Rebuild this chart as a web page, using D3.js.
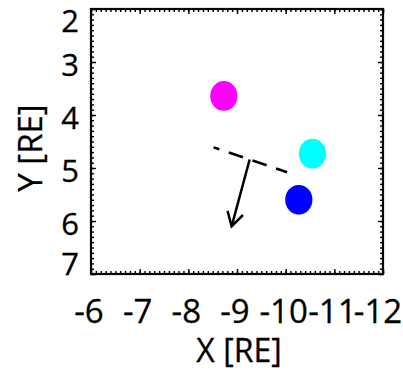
<!DOCTYPE html>
<html>
<head>
<meta charset="utf-8">
<script src="https://cdn.jsdelivr.net/npm/d3@7"></script>
<style>
  body { margin: 0; background: #fff; }
  svg text { font-family: "Open Sans", "Noto Sans", sans-serif; fill: #000; stroke: #000; stroke-width: 0.3; }
</style>
</head>
<body>
<svg id="chart"></svg>
<script>
// data
const xTicks = [-6, -7, -8, -9, -10, -11, -12];
const yTicks = [2, 3, 4, 5, 6, 7];
const pointX = [-8.73, -10.55, -10.27];
const pointY = [3.64, 4.73, 5.60];
const pointColor = ['#ff00ff', '#00ffff', '#0000ff'];
const pointRadius = 0.28; // data units
const dashX = [-8.52, -10.03];
const dashY = [4.61, 5.08];
const arrowX = [-9.26, -8.89];
const arrowY = [4.84, 6.10];

const width = 403, height = 370;
const plot = { left: 91, right: 383, top: 9, bottom: 274 };

const svg = d3.select('#chart')
    .attr('width', width)
    .attr('height', height);

const x = d3.scaleLinear().domain([-6, -12]).range([plot.left, plot.right]);
const y = d3.scaleLinear().domain([2, 7]).range([plot.top, plot.bottom]);

// minor + major ticks on all four sides, pointing inward
function drawTicks(axisFn, scale, transform, values, size) {
    svg.append('g')
        .attr('transform', transform)
        .call(axisFn(scale).tickValues(values).tickSize(size).tickFormat(''))
        .call(g => g.select('.domain').remove())
        .selectAll('line').attr('stroke', '#000').attr('stroke-width', 1.4);
}
const xMinor = x.ticks(60), yMinor = y.ticks(50);
drawTicks(d3.axisBottom, x, `translate(0,${plot.bottom})`, xMinor, -3);
drawTicks(d3.axisTop, x, `translate(0,${plot.top})`, xMinor, -3);
drawTicks(d3.axisLeft, y, `translate(${plot.left},0)`, yMinor, -3);
drawTicks(d3.axisRight, y, `translate(${plot.right},0)`, yMinor, -3);
drawTicks(d3.axisBottom, x, `translate(0,${plot.bottom})`, xTicks, -5);
drawTicks(d3.axisTop, x, `translate(0,${plot.top})`, xTicks, -5);
drawTicks(d3.axisLeft, y, `translate(${plot.left},0)`, yTicks, -5);
drawTicks(d3.axisRight, y, `translate(${plot.right},0)`, yTicks, -5);

svg.append('rect')
    .attr('x', plot.left).attr('y', plot.top)
    .attr('width', plot.right - plot.left).attr('height', plot.bottom - plot.top)
    .attr('fill', 'none').attr('stroke', '#000').attr('stroke-width', 2.2);

// tick labels
svg.selectAll('.xlab').data(xTicks).enter().append('text')
    .attr('x', d => Math.min(x(d) - 2, 378))
    .attr('y', 323)
    .attr('text-anchor', 'middle')
    .attr('font-size', 33)
    .text(d => d);

svg.selectAll('.ylab').data(yTicks).enter().append('text')
    .attr('x', 79)
    .attr('y', d => Math.max(32, Math.min(275, y(d) + 14)))
    .attr('text-anchor', 'end')
    .attr('font-size', 31)
    .text(d => d);

svg.append('text')
    .attr('x', (plot.left + plot.right) / 2 + 2)
    .attr('y', 362)
    .attr('text-anchor', 'middle')
    .attr('font-size', 32)
    .text('X [RE]');

svg.append('text')
    .attr('transform', `translate(42,148) rotate(-90)`)
    .attr('text-anchor', 'middle')
    .attr('font-size', 33)
    .text('Y [RE]');

// dots
const rx = Math.abs(x(pointRadius) - x(0));
const ry = Math.abs(y(pointRadius) - y(0));
svg.selectAll('ellipse').data(pointX).enter().append('ellipse')
    .attr('cx', d => x(d))
    .attr('cy', (d, i) => y(pointY[i]))
    .attr('rx', rx)
    .attr('ry', ry)
    .attr('fill', (d, i) => pointColor[i]);

// dashed line
svg.append('line')
    .attr('x1', x(dashX[0])).attr('y1', y(dashY[0]))
    .attr('x2', x(dashX[1])).attr('y2', y(dashY[1]))
    .attr('stroke', '#000').attr('stroke-width', 2.5)
    .attr('stroke-dasharray', '15,10').attr('stroke-dashoffset', 9);

// arrow
const ax0 = x(arrowX[0]), ay0 = y(arrowY[0]);
const ax1 = x(arrowX[1]), ay1 = y(arrowY[1]);
const ang = Math.atan2(ay0 - ay1, ax0 - ax1);
const headLen = 16, headAng = Math.PI / 6;
svg.append('line')
    .attr('x1', ax0).attr('y1', ay0).attr('x2', ax1).attr('y2', ay1)
    .attr('stroke', '#000').attr('stroke-width', 2.5);
svg.append('path')
    .attr('d', `M${ax1 + headLen * Math.cos(ang - headAng)},${ay1 + headLen * Math.sin(ang - headAng)}` +
               `L${ax1},${ay1}` +
               `L${ax1 + headLen * Math.cos(ang + headAng)},${ay1 + headLen * Math.sin(ang + headAng)}`)
    .attr('fill', 'none').attr('stroke', '#000').attr('stroke-width', 2.5);
</script>
</body>
</html>
